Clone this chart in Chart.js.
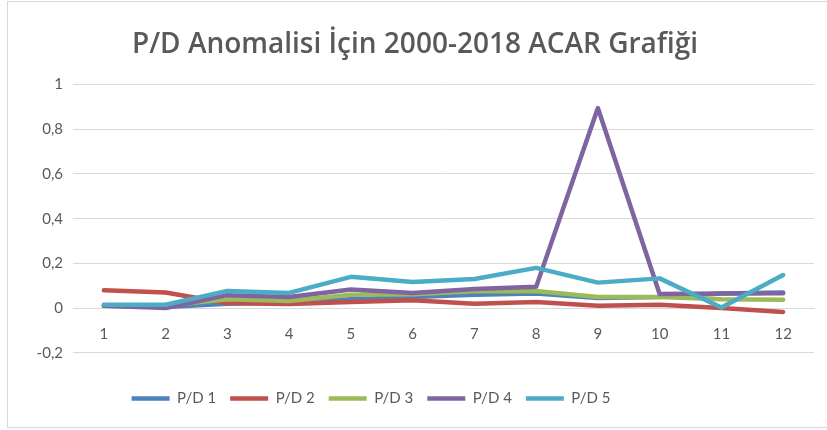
<!DOCTYPE html>
<html>
<head>
<meta charset="utf-8">
<script src="https://cdn.jsdelivr.net/npm/chart.js@4"></script>
<style>
  html,body{margin:0;padding:0;background:#fff;overflow:hidden}
  #wrap{position:relative;width:827px;height:430px}
  #frame{position:absolute;left:7px;top:1px;width:900px;height:427px;border:1px solid #d9d9d9;box-sizing:border-box}
  canvas{position:absolute;left:0;top:0}
</style>
</head>
<body>
<div id="wrap">
  <div id="frame"></div>
  <canvas id="acar" width="827" height="430"></canvas>
</div>
<script>
/* ── Datos ── */
const AYLAR  = ['1','2','3','4','5','6','7','8','9','10','11','12'];
const PD1    = [0.01, 0.005, 0.02, 0.03, 0.04, 0.05, 0.06, 0.065, 0.045, 0.05, 0.065, 0.07];
const PD2    = [0.08, 0.07, 0.022, 0.018, 0.027, 0.035, 0.02, 0.027, 0.01, 0.015, 0.0, -0.017];
const PD3    = [0.01, 0.01, 0.04, 0.032, 0.06, 0.062, 0.075, 0.077, 0.05, 0.05, 0.04, 0.037];
const PD4    = [0.01, 0.0, 0.058, 0.05, 0.083, 0.068, 0.085, 0.095, 0.895, 0.063, 0.065, 0.066];
const PD5    = [0.015, 0.015, 0.077, 0.068, 0.14, 0.117, 0.13, 0.18, 0.114, 0.133, 0.003, 0.148];
const SERIES = ['P/D 1','P/D 2','P/D 3','P/D 4','P/D 5'];
const Y_TICKS = [-0.2, 0, 0.2, 0.4, 0.6, 0.8, 1];

const COLS = ['#4F81BD','#C0504D','#9BBB59','#8064A2','#4BACC6'];
const GC = '#d9d9d9', TC = '#595959', FONT = 'Lato, "Open Sans", sans-serif';

/* serie 5 arriba, como en Excel */
const ds = [PD1,PD2,PD3,PD4,PD5].map((d,i)=>({
  label:SERIES[i], data:d, borderColor:COLS[i], backgroundColor:COLS[i],
  borderWidth:4.5, pointRadius:0, pointStyle:'line', tension:0,
  borderCapStyle:'round', borderJoinStyle:'round', order:5-i
}));

/* la leyenda de Excel no está centrada: correrla a la izquierda */
const legendShift = { id:'legendShift', afterLayout(c){ c.legend.left -= 44; c.legend.right -= 44; } };

new Chart(document.getElementById('acar'), {
  type:'line',
  data:{ labels:AYLAR, datasets:ds },
  plugins:[legendShift],
  options:{
    responsive:false, animation:false,
    layout:{ padding:{ left:16, right:13, top:28, bottom:14 } },
    plugins:{
      title:{ display:true, text:'P/D Anomalisi İçin 2000-2018 ACAR Grafiği', color:TC,
        font:{ family:'"Open Sans", sans-serif', size:28, weight:'600' }, padding:{ top:0, bottom:23 } },
      legend:{ position:'bottom',
        title:{ display:true, text:' ', font:{ size:1 }, padding:{ top:23, bottom:0 } },
        labels:{ color:TC, font:{ family:FONT, size:15 }, usePointStyle:true, pointStyleWidth:38, padding:14,
                 sort:(a,b)=>a.datasetIndex-b.datasetIndex } },
      tooltip:{ enabled:false }
    },
    scales:{
      x:{ position:{ y:0 }, offset:true, grid:{ display:false, drawTicks:false }, border:{ color:GC },
          ticks:{ color:TC, font:{ family:FONT, size:15 }, padding:17 } },
      y:{ min:-0.2, max:1, afterFit:s=>{ s.width = 57; },
          afterBuildTicks:s=>{ s.ticks = Y_TICKS.map(v=>({ value:v })); },
          grid:{ color:GC, drawTicks:false }, border:{ display:false },
          ticks:{ color:TC, font:{ family:FONT, size:15 }, padding:10,
                  callback:v=>String(Math.round(v*10)/10).replace('.',',') } }
    }
  }
});
</script>
</body>
</html>
